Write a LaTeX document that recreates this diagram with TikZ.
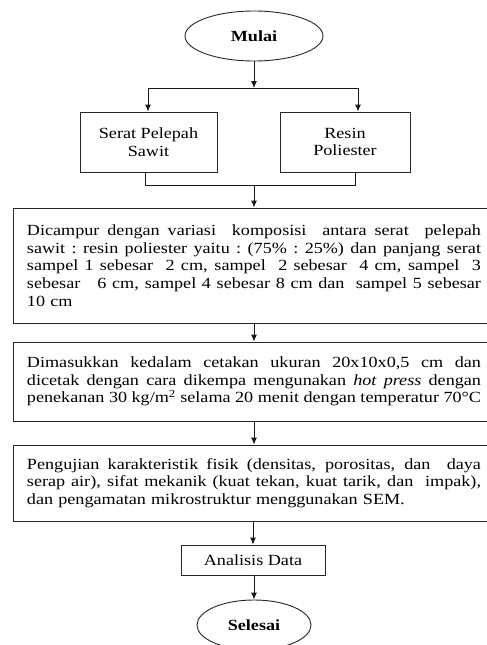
\documentclass[tikz,border=0pt]{standalone}
\usepackage{fontspec}
\setmainfont{Liberation Serif}[FakeStretch=1.17]
\usetikzlibrary{shapes.geometric,arrows.meta}
\newcommand{\jline}[1]{\leavevmode\hbox to 454pt{\spaceskip=0.25em plus 1fil\relax\xspaceskip=0.25em plus 1fil\relax #1}}
\newcommand{\dsp}{\hskip 0.25em plus 1fil\relax}
\begin{document}
\begin{tikzpicture}[x=1pt,y=-1pt,
  font=\fontsize{15.5}{17.7}\selectfont,
  box/.style={draw=black!85, line width=0.9pt, rectangle, inner sep=0pt},
  arr/.style={-{Latex[length=7pt,width=6pt]}, line width=0.9pt, draw=black!90},
  ln/.style={line width=0.9pt, draw=black!90},
  term/.style={draw=black!85, ellipse, line width=0.9pt, inner sep=0pt, font=\fontsize{15.5}{17.7}\selectfont\bfseries}]
\useasboundingbox[fill=white] (0,0) rectangle (487,645);

% terminals and boxes
\node[term, minimum width=138pt, minimum height=50pt] (mulai) at (254,36) {Mulai};
\node[box, minimum width=137pt, minimum height=60pt, align=center] (serat) at (148.5,142) {Serat Pelepah\\Sawit};
\node[box, minimum width=130pt, minimum height=60pt, align=center] (resin) at (345,142) {Resin\\Poliester};

\node[box, minimum width=482pt, minimum height=115pt, text width=454pt] (b1) at (254,265.5) {\noindent
\jline{Dicampur dengan variasi\dsp{} komposisi\dsp{} antara serat\dsp{} pelepah}\\
\jline{sawit : resin poliester yaitu : (75\% : 25\%) dan panjang serat}\\
\jline{sampel 1 sebesar\dsp{} 2 cm, sampel\dsp{} 2 sebesar\dsp{} 4 cm, sampel\dsp{} 3}\\
\jline{sebesar\dsp\dsp{} 6 cm, sampel 4 sebesar 8 cm dan\dsp{} sampel 5 sebesar}\\
10 cm};

\node[box, minimum width=482pt, minimum height=79pt, text width=454pt] (b2) at (254,381.5) {\noindent
\jline{Dimasukkan kedalam cetakan ukuran 20x10x0,5 cm dan}\\
\jline{dicetak dengan cara dikempa mengunakan \textit{hot press} dengan}\\
\jline{penekanan 30 kg/m\textsuperscript{2} selama 20 menit dengan temperatur 70°C}};

\node[box, minimum width=482pt, minimum height=76pt, text width=454pt] (b3) at (254,483) {\noindent
\jline{Pengujian karakteristik fisik (densitas, porositas, dan\dsp{} daya}\\
\jline{serap air), sifat mekanik (kuat tekan, kuat tarik, dan\dsp{} impak),}\\
dan pengamatan mikrostruktur menggunakan SEM.};

\node[box, minimum width=144pt, minimum height=30pt] (ana) at (253,560) {Analisis Data};
\node[term, minimum width=114pt, minimum height=50pt] (selesai) at (254,625) {Selesai};

% split connector
\coordinate (split) at (254,88);
\coordinate (sl) at (148,88);
\coordinate (sr) at (358,88);
\draw[arr] (mulai.south) -- (split);
\draw[ln] (sl) -- (sr);
\draw[arr] (sl) -- (sl |- serat.north);
\draw[arr] (sr) -- (sr |- resin.north);

% merge connector
\coordinate (ml) at (145,185);
\coordinate (mr) at (355,185);
\coordinate (mm) at (254,185);
\draw[ln] (ml |- serat.south) -- (ml) -- (mr) -- (mr |- resin.south);
\draw[arr] (mm) -- (mm |- b1.north);

% main chain
\draw[arr] (b1.south) -- (b2.north);
\draw[arr] (b2.south) -- (b3.north);
\draw[arr] (b3.south -| ana.north) -- (ana.north);
\draw[arr] (ana.south -| selesai.north) -- (selesai.north);
\end{tikzpicture}
\end{document}
